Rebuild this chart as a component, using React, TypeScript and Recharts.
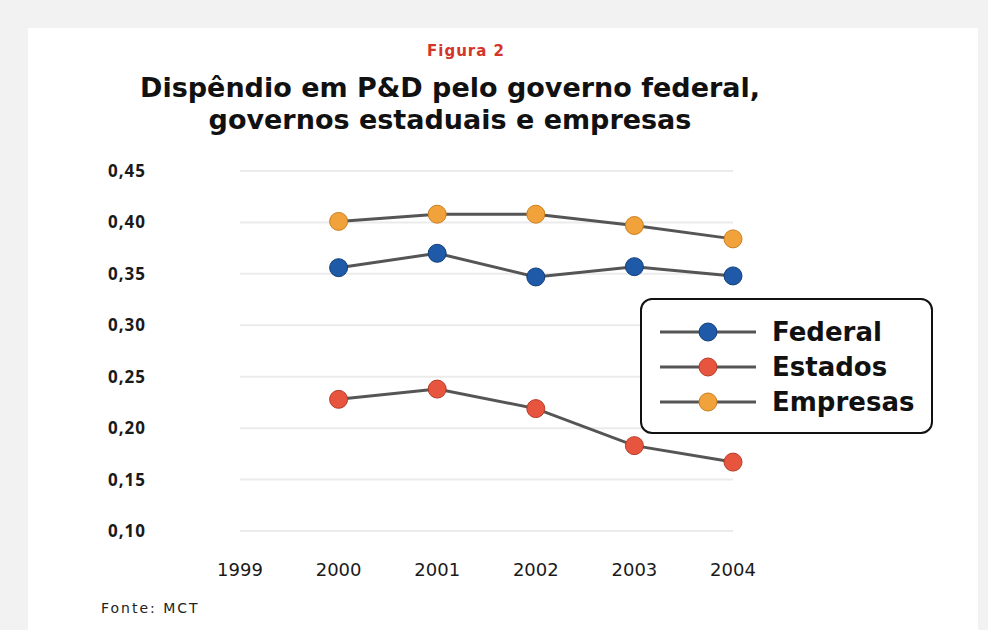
import { LineChart, Line, XAxis, YAxis, CartesianGrid } from "recharts";

const years = ["1999", "2000", "2001", "2002", "2003", "2004"];
const federal = [null, 0.356, 0.37, 0.347, 0.357, 0.348];
const estados = [null, 0.228, 0.238, 0.219, 0.183, 0.167];
const empresas = [null, 0.401, 0.408, 0.408, 0.397, 0.384];
const yTicks = [0.1, 0.15, 0.2, 0.25, 0.3, 0.35, 0.4, 0.45];

const data = years.map((year, i) => ({
  year,
  federal: federal[i],
  estados: estados[i],
  empresas: empresas[i],
}));

const series = [
  { key: "federal", name: "Federal", fill: "#1f5aa8", stroke: "#123f7a" },
  { key: "estados", name: "Estados", fill: "#e8553e", stroke: "#b63a28" },
  { key: "empresas", name: "Empresas", fill: "#f2a23a", stroke: "#c97f1e" },
];

const fmt = (v: number) => v.toFixed(2).replace(".", ",");

const LegendBox = () => (
  <div
    style={{
      position: "absolute",
      left: 640,
      top: 298,
      width: 293,
      height: 136,
      border: "2.5px solid #111",
      borderRadius: 12,
      background: "#fff",
      boxSizing: "border-box",
      paddingTop: 14,
      paddingLeft: 16,
    }}
  >
    {series.map((s) => (
      <div key={s.key} style={{ display: "flex", alignItems: "center", height: 35 }}>
        <svg width={100} height={24}>
          <line x1={2} y1={12} x2={98} y2={12} stroke="#555" strokeWidth={3} />
          <circle cx={50} cy={12} r={9} fill={s.fill} stroke={s.stroke} strokeWidth={1} />
        </svg>
        <span
          style={{
            marginLeft: 14,
            fontFamily: "DejaVu Sans",
            fontWeight: "bold",
            fontSize: 26,
            color: "#111",
          }}
        >
          {s.name}
        </span>
      </div>
    ))}
  </div>
);

export default function App() {
  return (
    <div
      style={{
        position: "absolute",
        left: 0,
        top: 0,
        width: 988,
        height: 630,
        background: "#f2f2f2",
        overflow: "hidden",
      }}
    >
      <div
        style={{
          position: "absolute",
          left: 28,
          top: 28,
          width: 950,
          height: 610,
          background: "#fff",
        }}
      />
      <div
        style={{
          position: "absolute",
          left: 0,
          width: 932,
          top: 42,
          textAlign: "center",
          fontFamily: "DejaVu Sans",
          fontWeight: "bold",
          fontSize: 15,
          letterSpacing: 1,
          color: "#d4352a",
        }}
      >
        Figura 2
      </div>
      <div
        style={{
          position: "absolute",
          left: 0,
          width: 900,
          top: 72,
          textAlign: "center",
          fontFamily: "DejaVu Sans",
          fontWeight: "bold",
          fontSize: 27,
          lineHeight: "32px",
          color: "#111",
        }}
      >
        Dispêndio em P&amp;D pelo governo federal,
        <br />
        governos estaduais e empresas
      </div>
      <div
        style={{
          position: "absolute",
          left: 101,
          top: 600,
          fontFamily: "DejaVu Sans",
          fontSize: 14,
          letterSpacing: 2,
          color: "#222",
        }}
      >
        Fonte: MCT
      </div>
      <div style={{ position: "absolute", left: 0, top: 0 }}>
        <LineChart
          width={988}
          height={630}
          data={data}
          margin={{ top: 171, right: 255, bottom: 39, left: 140 }}
        >
          <CartesianGrid vertical={false} stroke="#ebebeb" strokeWidth={2} />
          <XAxis
            dataKey="year"
            axisLine={false}
            tickLine={false}
            tickSize={0}
            tickMargin={32}
            height={60}
            interval={0}
            tick={{ fontFamily: "DejaVu Sans", fontSize: 18, fill: "#1a1a1a" }}
          />
          <YAxis
            domain={[0.1, 0.45]}
            ticks={yTicks}
            interval={0}
            width={100}
            axisLine={false}
            tickLine={false}
            tickSize={0}
            tickMargin={94}
            tickFormatter={fmt}
            tick={{ fontFamily: "Open Sans", fontWeight: 700, fontSize: 17, letterSpacing: 1, fill: "#1a1a1a" }}
          />
          {series.map((s) => (
            <Line
              key={s.key}
              dataKey={s.key}
              name={s.name}
              type="linear"
              stroke="#555"
              strokeWidth={3}
              dot={{ r: 9, fill: s.fill, stroke: s.stroke, strokeWidth: 1, fillOpacity: 1 }}
              activeDot={false}
              isAnimationActive={false}
            />
          ))}
        </LineChart>
      </div>
      <LegendBox />
    </div>
  );
}
